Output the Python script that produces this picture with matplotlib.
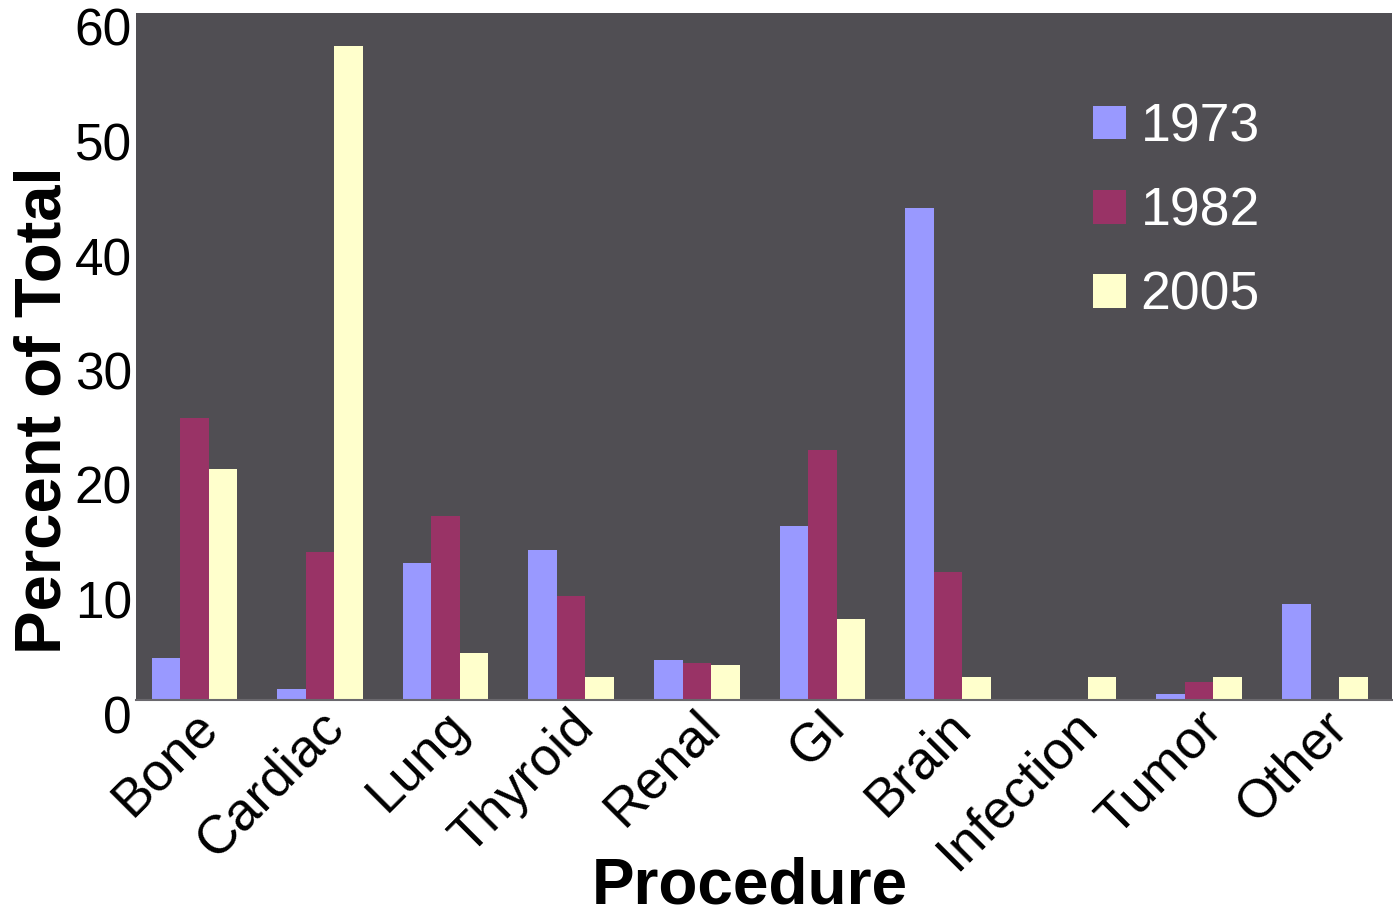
import matplotlib
matplotlib.use("Agg")
import matplotlib.pyplot as plt
import matplotlib.transforms as mtransforms
from matplotlib.patches import Patch
import numpy as np

plt.rcParams['font.family'] = ['Liberation Sans', 'DejaVu Sans']

categories = ["Bone", "Cardiac", "Lung", "Thyroid", "Renal", "GI", "Brain",
              "Infection", "Tumor", "Other"]
years = ["1973", "1982", "2005"]
pct_1973 = [3.7, 1.0, 12.0, 13.1, 3.5, 15.2, 43.0, 0.0, 0.5, 8.4]
pct_1982 = [24.6, 12.9, 16.1, 9.1, 3.2, 21.8, 11.2, 0.0, 1.6, 0.0]
pct_2005 = [20.2, 57.1, 4.1, 2.0, 3.1, 7.1, 2.0, 2.0, 2.0, 2.0]
y_ticks = [0, 10, 20, 30, 40, 50, 60]

colors = ["#9999FF", "#993366", "#FFFFCC"]
series = [pct_1973, pct_1982, pct_2005]

fig = plt.figure(figsize=(13.93, 9.15), dpi=100)
ax = fig.add_axes([136 / 1393, 1 - 700 / 915, 1256 / 1393, 687 / 915])
ax.set_facecolor("#504E53")

x = np.arange(len(categories))
width = 0.227
center_shift = -0.035
for i, (vals, col) in enumerate(zip(series, colors)):
    ax.bar(x + center_shift + (i - 1) * width, vals, width=width, color=col,
           linewidth=0, label=years[i])

ax.set_xlim(-0.5, len(categories) - 0.5)
ax.set_ylim(0, 60)
ax.set_yticks(y_ticks)
ax.set_yticklabels([str(t) for t in y_ticks])
ax.set_xticks(x)
ax.set_xticklabels(categories, rotation=45, ha="right", va="top",
                   rotation_mode="anchor")
ax.tick_params(axis="both", length=0)
ax.tick_params(axis="y", pad=3, labelsize=37)
ax.tick_params(axis="x", pad=1, labelsize=38.5)

# y tick labels sit slightly below their gridline positions
yshift = mtransforms.ScaledTranslation(0, -14 / 100, fig.dpi_scale_trans)
for lab in ax.get_yticklabels():
    lab.set_transform(lab.get_transform() + yshift)
# category labels nudged left
xshift = mtransforms.ScaledTranslation(-7 / 100, 0, fig.dpi_scale_trans)
for lab in ax.get_xticklabels():
    lab.set_transform(lab.get_transform() + xshift)

for side in ["top", "right", "left"]:
    ax.spines[side].set_visible(False)
ax.spines["bottom"].set_color("#6a686d")
ax.spines["bottom"].set_linewidth(1.5)

ax.set_ylabel("Percent of Total", fontsize=47, fontweight="bold", va="center")
ax.yaxis.set_label_coords(-0.0735, 0.422)
ax.set_xlabel("Procedure", fontsize=46, fontweight="bold", va="center")
ax.xaxis.set_label_coords(0.489, -0.271)

handles = [Patch(facecolor=c, edgecolor="none") for c in colors]
leg = ax.legend(handles, years, loc="upper left",
                bbox_to_anchor=(0.724, 0.94), frameon=False, fontsize=38.5,
                labelcolor="white", handlelength=0.6, handleheight=0.6,
                handletextpad=0.28, labelspacing=0.64)

fig.savefig("out.png", dpi=100, facecolor="white")
